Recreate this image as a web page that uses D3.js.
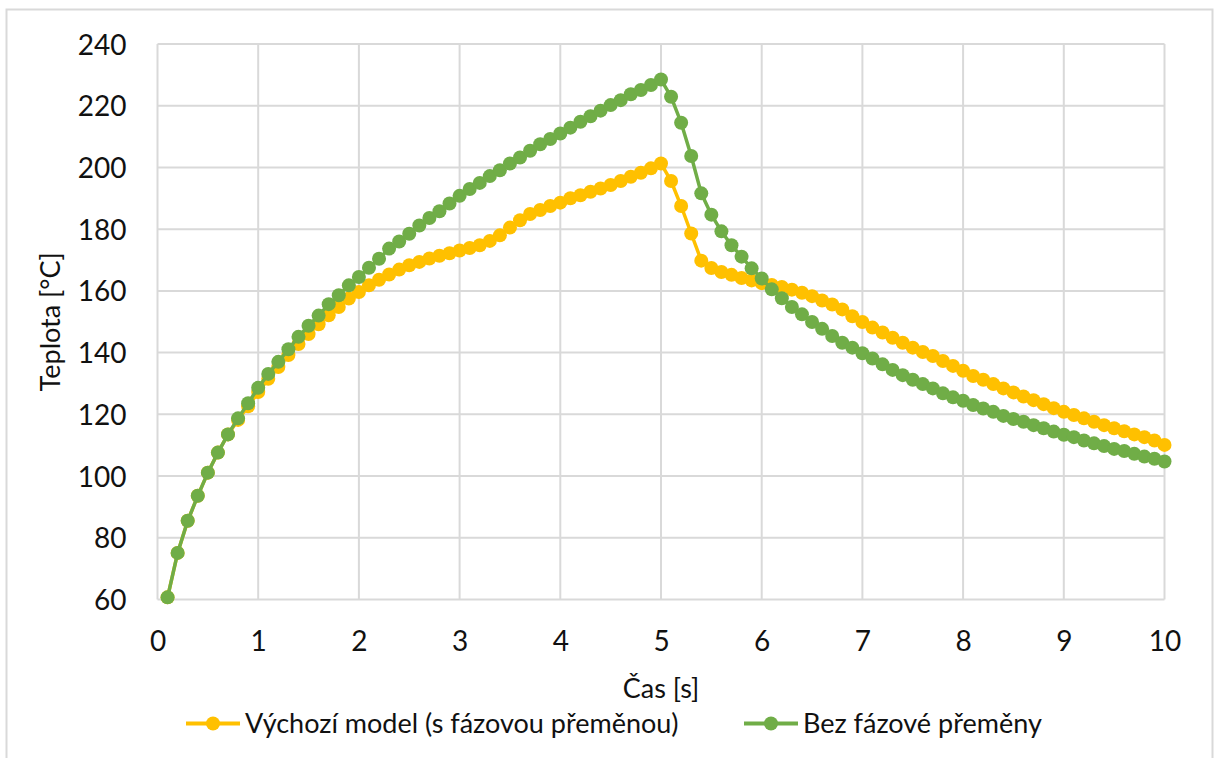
<!DOCTYPE html>
<html lang="cs">

<head>
    <meta charset="UTF-8">
    <title>Teplota</title>
    <script src="https://d3js.org/d3.v7.min.js"></script>
    <style>
        body,
        html {
            margin: 0px;
            background: #fff;
        }

        text {
            font-family: Lato, "Open Sans", sans-serif;
            fill: #111;
        }
    </style>
</head>

<body>
    <div id="chart"></div>

    <script>
        // time steps 0.1 .. 10 s
        const cas = d3.range(1, 101).map(i => i / 10)

        // Výchozí model (s fázovou přeměnou)
        const vychozi = [
            60.7, 75.1, 85.5, 93.6, 101.1, 107.6, 113.5, 118.2, 122.6, 127.2,
            131.5, 135.3, 139.2, 142.8, 146.0, 149.2, 152.1, 154.8, 157.5, 159.6,
            161.8, 163.6, 165.3, 166.9, 168.3, 169.4, 170.5, 171.4, 172.2, 173.1,
            173.9, 174.8, 176.2, 178.0, 180.5, 182.9, 184.9, 186.2, 187.5, 188.6,
            190.0, 191.0, 192.1, 193.2, 194.3, 195.6, 197.0, 198.3, 199.7, 201.3,
            195.6, 187.5, 178.6, 169.8, 167.4, 166.1, 165.2, 164.2, 163.4, 162.5,
            161.9, 161.3, 160.4, 159.4, 158.3, 156.9, 155.6, 154.0, 151.8, 149.9,
            148.1, 146.5, 144.8, 143.2, 141.6, 140.2, 138.9, 137.3, 135.7, 134.1,
            132.4, 131.2, 129.8, 128.4, 127.1, 125.8, 124.6, 123.3, 122.0, 120.8,
            119.8, 118.7, 117.6, 116.5, 115.5, 114.5, 113.5, 112.6, 111.5, 110.1
        ]

        // Bez fázové přeměny
        const bezPremeny = [
            60.7, 75.1, 85.5, 93.6, 101.1, 107.6, 113.5, 118.7, 123.6, 128.6,
            133.1, 137.0, 141.1, 145.1, 148.7, 152.0, 155.7, 158.6, 161.8, 164.5,
            167.5, 170.4, 173.7, 176.0, 178.5, 181.2, 183.6, 185.8, 188.3, 190.8,
            193.0, 195.0, 197.2, 199.1, 201.3, 203.2, 205.4, 207.5, 209.2, 211.0,
            212.9, 214.8, 216.6, 218.4, 220.2, 221.8, 223.7, 225.1, 226.7, 228.5,
            222.9, 214.5, 203.7, 191.6, 184.7, 179.3, 174.8, 171.1, 167.3, 164.0,
            160.5, 157.6, 154.8, 152.4, 149.9, 147.7, 145.4, 143.2, 141.6, 139.8,
            138.1, 136.2, 134.4, 132.7, 131.2, 129.8, 128.4, 126.8, 125.5, 124.4,
            123.0, 121.9, 120.8, 119.5, 118.5, 117.6, 116.5, 115.5, 114.4, 113.4,
            112.6, 111.5, 110.6, 109.7, 108.8, 108.1, 107.2, 106.3, 105.6, 104.7
        ]

        const xTicks = d3.range(0, 11)
        const yTicks = d3.range(60, 241, 20)

        const series = [
            { name: "Výchozí model (s fázovou přeměnou)", values: vychozi, color: "#FFC000" },
            { name: "Bez fázové přeměny", values: bezPremeny, color: "#70AD47" }
        ]

        const width = 1214
        const height = 758

        const svg = d3.select("#chart")
            .append("svg")
            .attr("width", width)
            .attr("height", height)

        // outer chart frame
        svg.append("rect")
            .attr("x", 6.5).attr("y", 9.5)
            .attr("width", 1206).attr("height", 760)
            .attr("fill", "none")
            .attr("stroke", "#d9d9d9")
            .attr("stroke-width", 2)

        const x = d3.scaleLinear().domain([0, 10]).range([157.5, 1164.5])
        const y = d3.scaleLinear().domain([60, 240]).range([599.5, 44])

        // grid
        svg.append("g")
            .selectAll("line")
            .data(xTicks)
            .enter().append("line")
            .attr("x1", d => x(d)).attr("x2", d => x(d))
            .attr("y1", y(60)).attr("y2", y(240))
            .attr("stroke", "#d9d9d9").attr("stroke-width", 2)

        svg.append("g")
            .selectAll("line")
            .data(yTicks)
            .enter().append("line")
            .attr("x1", x(0)).attr("x2", x(10))
            .attr("y1", d => y(d)).attr("y2", d => y(d))
            .attr("stroke", "#d9d9d9").attr("stroke-width", 2)

        // axes (labels only, lines drawn by grid)
        const xAxis = svg.append("g")
            .attr("transform", "translate(0," + y(60) + ")")
            .call(d3.axisBottom(x).tickValues(xTicks).tickSize(0).tickPadding(32))
        xAxis.select(".domain").remove()
        xAxis.selectAll("text").style("font-size", "28px")

        const yAxis = svg.append("g")
            .attr("transform", "translate(" + x(0) + ",0)")
            .call(d3.axisLeft(y).tickValues(yTicks).tickSize(0).tickPadding(31))
        yAxis.select(".domain").remove()
        yAxis.selectAll("text").style("font-size", "28px").attr("dy", "0.36em")

        svg.append("text")
            .attr("x", (x(0) + x(10)) / 2)
            .attr("y", 698)
            .attr("text-anchor", "middle")
            .style("font-size", "27px")
            .text("Čas [s]")

        svg.append("text")
            .attr("transform", "translate(60," + (y(60) + y(240)) / 2 + ") rotate(-90)")
            .attr("text-anchor", "middle")
            .style("font-size", "27px")
            .text("Teplota [°C]")

        const line = d3.line()
            .x((d, i) => x(cas[i]))
            .y(d => y(d))

        series.forEach(s => {
            const g = svg.append("g")
            g.append("path")
                .datum(s.values)
                .attr("d", line)
                .attr("fill", "none")
                .attr("stroke", s.color)
                .attr("stroke-width", 3.5)
            g.selectAll("circle")
                .data(s.values)
                .enter().append("circle")
                .attr("cx", (d, i) => x(cas[i]))
                .attr("cy", d => y(d))
                .attr("r", 7)
                .attr("fill", s.color)
        })

        // legend
        const legendX = [186, 744]
        const legend = svg.append("g")
            .selectAll("g")
            .data(series)
            .enter().append("g")
            .attr("transform", (d, i) => "translate(" + legendX[i] + ",723.5)")

        legend.append("line")
            .attr("x1", 0).attr("x2", 54)
            .attr("stroke", d => d.color).attr("stroke-width", 4)
        legend.append("circle")
            .attr("cx", 27).attr("r", 7)
            .attr("fill", d => d.color)
        legend.append("text")
            .attr("x", 59).attr("dy", "0.36em")
            .style("font-size", "27px")
            .text(d => d.name)
    </script>
</body>

</html>
